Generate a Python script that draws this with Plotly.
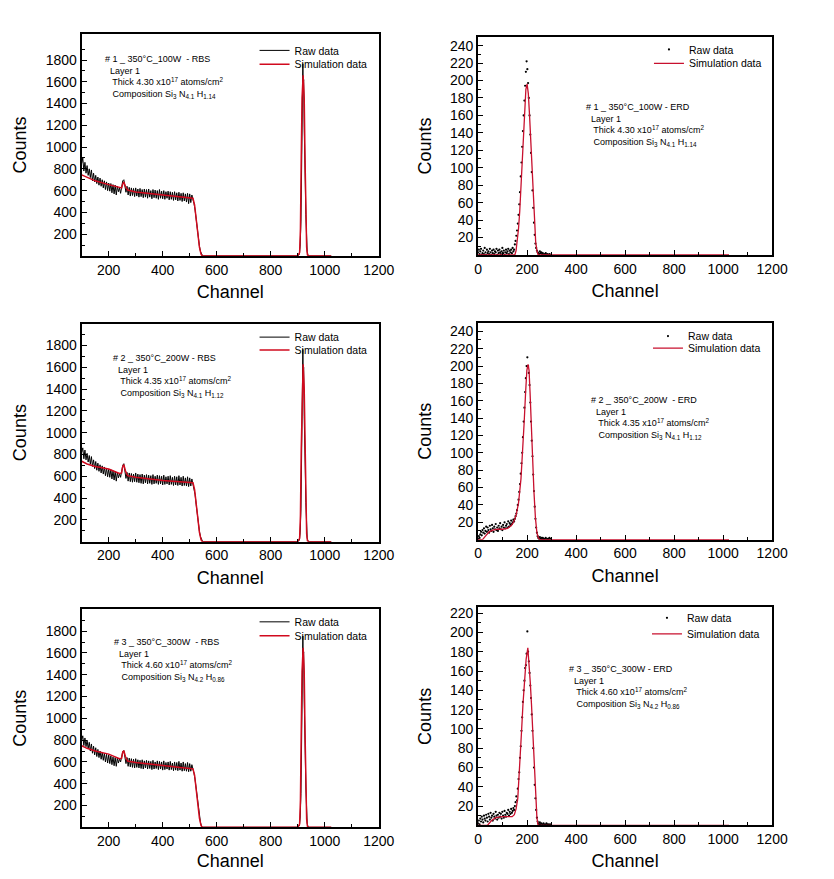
import plotly.graph_objects as go

FONT = "Liberation Sans, Arial, sans-serif"
OFF = 8          # default page body margin
W, H = 803, 863  # figure size in page pixels
SX, SY = 0.9815, 0.9975  # measured page -> picture scale

# ---------------- DATA ----------------
# RBS raw spectra: counts every 4 channels starting at channel 100
rbs_raw_start, rbs_raw_step = 100, 4
rbs1_raw = [850, 900, 780, 860, 760, 830, 740, 800, 720, 790,
            690, 760, 680, 740, 665, 725, 650, 715, 640, 700,
            625, 690, 610, 680, 600, 670, 595, 665, 580, 655,
            570, 650, 560, 640, 590, 625, 575, 660, 690, 700,
            630, 585, 640, 560, 630, 550, 625, 555, 620, 545,
            625, 550, 615, 540, 620, 545, 610, 535, 615, 540,
            610, 530, 615, 540, 600, 525, 610, 535, 605, 530,
            600, 520, 610, 530, 595, 525, 600, 520, 590, 530,
            595, 515, 590, 520, 585, 510, 590, 515, 580, 505,
            585, 510, 575, 500, 580, 505, 570, 495, 575, 480,
            570, 490, 560, 525, 480, 420, 330, 240, 160, 90,
            40, 10, 0]
rbs2_raw = [820, 860, 760, 840, 750, 810, 730, 790, 710, 780,
            690, 750, 670, 735, 655, 720, 645, 705, 630, 695,
            620, 685, 605, 675, 595, 665, 590, 660, 575, 650,
            565, 645, 555, 635, 585, 625, 590, 660, 700, 715,
            640, 580, 635, 555, 630, 550, 625, 545, 620, 550,
            630, 545, 620, 540, 615, 535, 620, 530, 610, 540,
            615, 530, 610, 535, 605, 525, 615, 530, 600, 535,
            610, 525, 605, 530, 600, 520, 610, 525, 595, 530,
            600, 520, 605, 525, 590, 515, 600, 520, 595, 515,
            605, 520, 590, 510, 600, 515, 585, 510, 595, 505,
            585, 510, 575, 535, 490, 430, 340, 250, 165, 95,
            45, 12, 0]
rbs3_raw = [800, 840, 750, 820, 740, 800, 720, 780, 700, 765,
            680, 745, 665, 730, 650, 715, 640, 700, 625, 690,
            615, 680, 600, 670, 590, 665, 585, 655, 575, 645,
            565, 640, 560, 635, 590, 630, 600, 665, 695, 705,
            645, 585, 640, 560, 635, 555, 630, 550, 625, 545,
            630, 550, 620, 545, 615, 540, 620, 535, 610, 545,
            615, 535, 610, 540, 605, 530, 615, 535, 600, 540,
            610, 530, 605, 535, 600, 525, 610, 530, 595, 535,
            600, 525, 605, 530, 590, 520, 600, 525, 595, 520,
            605, 525, 590, 515, 600, 520, 585, 515, 595, 510,
            585, 515, 575, 540, 495, 435, 345, 250, 165, 95,
            42, 10, 0]
# RBS raw: zero region and surface peak
rbs_peak_ch = [552, 600, 700, 800, 900, 906, 909, 912, 914, 916, 918, 919, 920,
               922, 924, 926, 928, 930, 932, 935, 938, 942, 960, 1000, 1024]
rbs1_peak = [0, 0, 0, 0, 0, 15, 90, 320, 760, 1320, 1640, 1766, 1560,
             1620, 1180, 1020, 680, 380, 160, 40, 6, 0, 0, 0, 0]
rbs2_peak = [0, 0, 0, 0, 0, 12, 80, 300, 720, 1290, 1620, 1764, 1540,
             1600, 1150, 980, 650, 360, 150, 35, 5, 0, 0, 0, 0]
rbs3_peak = [0, 0, 0, 0, 0, 14, 85, 310, 740, 1310, 1630, 1755, 1550,
             1610, 1170, 1000, 660, 370, 150, 38, 5, 0, 0, 0, 0]

# RBS simulation curves
rbs_sim_ch = [100, 120, 150, 200, 240, 248, 252, 256, 262, 270, 300, 350, 400, 450,
              500, 512, 518, 524, 530, 536, 542, 546, 600, 900, 907, 910, 913, 916,
              920, 924, 927, 930, 933, 936, 940, 1024]
rbs1_sim = [745, 720, 690, 655, 625, 625, 660, 680, 640, 605, 588, 575, 565, 550,
            537, 530, 470, 340, 200, 80, 15, 0, 0, 0, 30, 250, 900, 1450,
            1660, 1450, 900, 350, 80, 10, 0, 0]
rbs2_sim = [737, 712, 690, 666, 625, 630, 690, 706, 650, 605, 590, 575, 560, 552,
            545, 540, 480, 350, 205, 85, 18, 0, 0, 0, 30, 240, 850, 1400,
            1627, 1400, 850, 330, 70, 8, 0, 0]
rbs3_sim = [749, 725, 700, 672, 630, 635, 690, 703, 650, 608, 596, 580, 566, 553,
            541, 536, 480, 350, 205, 85, 18, 0, 0, 0, 30, 250, 880, 1430,
            1648, 1430, 880, 340, 75, 8, 0, 0]

# ERD raw spectra: counts every 3 channels starting at channel 0
erd_raw_start, erd_raw_step = 0, 3
erd1_raw = [3, 6, 1, 4, 7, 0, 2, 5, 1, 8, 3, 0, 6, 2, 4, 1, 7, 3, 0, 5,
            2, 6, 1, 4, 3, 7, 0, 5, 2, 6, 3, 1, 4, 8, 2, 5, 0, 3, 6, 2,
            4, 7, 1, 5, 3, 6, 2, 8, 4, 6,
            12, 16, 22, 28, 36, 46, 58, 72, 90, 106, 124, 142, 160, 177, 194, 210, 222, 213, 197, 180,
            160, 138, 117, 95, 74, 54, 37, 23, 13, 8, 5, 3, 2, 1, 4, 2, 3, 1, 2, 0,
            1, 0, 2, 0, 1, 0, 0, 1, 0, 0]
erd2_raw = [1, 4, 2, 6, 9, 5, 11, 8, 13, 7, 10, 15, 9, 14, 11, 8, 16, 12, 10, 17,
            13, 9, 15, 12, 18, 11, 14, 10, 16, 13, 19, 12, 15, 11, 17, 14, 20, 13, 16, 18,
            14, 21, 15, 19, 17, 22, 18, 20, 23, 21,
            24, 27, 30, 34, 40, 46, 55, 64, 76, 88, 100, 118, 136, 152, 170, 186, 200, 210, 200, 192,
            178, 158, 136, 114, 96, 75, 56, 38, 24, 14, 8, 4, 2, 1, 3, 1, 2, 0, 2, 1,
            0, 1, 2, 0, 1, 0, 1, 2, 0, 1]
erd3_raw = [2, 5, 1, 7, 4, 9, 6, 3, 10, 7, 5, 11, 8, 4, 12, 9, 6, 13, 8, 10,
            5, 12, 9, 7, 14, 10, 6, 11, 8, 13, 9, 12, 7, 14, 10, 8, 15, 11, 9, 13,
            12, 16, 10, 14, 12, 17, 13, 15, 18, 16,
            20, 24, 30, 26, 38, 48, 55, 70, 82, 98, 112, 128, 140, 150, 163, 166, 178, 201, 180, 170,
            158, 145, 132, 115, 98, 80, 60, 42, 28, 16, 8, 4, 2, 1, 3, 1, 2, 0, 1, 2,
            0, 1, 0, 2, 1, 0, 1, 0, 1, 0]

# ERD simulation curves
erd1_sim_ch = [0, 140, 150, 155, 160, 165, 170, 175, 180, 185, 190, 195, 200, 205,
               210, 215, 220, 225, 230, 235, 240, 245, 1024]
erd1_sim = [0, 0, 0, 5, 15, 30, 50, 75, 100, 130, 165, 190, 196, 185,
            160, 130, 100, 65, 35, 15, 5, 0, 0]
erd2_sim_ch = [0, 18, 30, 45, 60, 80, 100, 120, 135, 145, 155, 165, 175, 182, 188, 194,
               199, 204, 208, 212, 217, 222, 228, 234, 240, 246, 252, 1024]
erd2_sim = [0, 0, 4, 9, 11, 12, 12, 13, 16, 20, 28, 42, 70, 100, 135, 170,
            195, 202, 195, 170, 130, 95, 55, 25, 8, 2, 0, 0]
erd3_sim_ch = [0, 38, 55, 72, 100, 139, 148, 155, 162, 170, 177, 183, 189, 196, 203,
               208, 213, 218, 223, 229, 234, 240, 245, 1024]
erd3_sim = [0, 0, 5, 8, 9, 9, 11, 17, 28, 60, 96, 125, 148, 172, 184,
            170, 148, 125, 96, 55, 28, 8, 0, 0]

# Text labels
sample_titles = ["# 1 _ 350°C_100W  - RBS", "# 1 _ 350°C_100W - ERD",
                 "# 2 _ 350°C_200W - RBS", "# 2 _ 350°C_200W  - ERD",
                 "# 3 _ 350°C_300W  - RBS", "# 3 _ 350°C_300W - ERD"]
thickness = ["4.30", "4.30", "4.35", "4.35", "4.60", "4.60"]
comp_N = ["4.1", "4.1", "4.1", "4.1", "4.2", "4.2"]
comp_H = ["1.14", "1.14", "1.12", "1.12", "0.86", "0.86"]

rbs_x_ticks = [200, 400, 600, 800, 1000, 1200]
rbs_x_minor = [300, 500, 700, 900, 1100]
rbs_y_ticks = [200, 400, 600, 800, 1000, 1200, 1400, 1600, 1800]
rbs_y_minor = [100, 300, 500, 700, 900, 1100, 1300, 1500, 1700, 1900]
erd_x_ticks = [0, 200, 400, 600, 800, 1000, 1200]
erd_x_minor = [100, 300, 500, 700, 900, 1100]
erd_y_ticks = [20, 40, 60, 80, 100, 120, 140, 160, 180, 200, 220, 240]
erd_y_minor = [10, 30, 50, 70, 90, 110, 130, 150, 170, 190, 210, 230, 250]


# ---------------- LAYOUT HELPERS (picture pixels -> paper fractions) ----------------
def fx(p):
    return (p / SX - OFF) / W


def fy(p):
    return 1 - (p / SY - OFF) / H


def chans(start, step, n):
    return [start + step * i for i in range(n)]


RED = "#d10a1e"
RED_ERD = "#c8102e"

panels = [
    dict(kind="rbs", xpx=(78, 377), ypx=(32, 255), yr=2040, raw=rbs1_raw, peak=rbs1_peak,
         sim_ch=rbs_sim_ch, sim=rbs1_sim, ann=(99, 50), leg=(252, 48, 62)),
    dict(kind="erd", xpx=(477, 773), ypx=(35, 254), yr=250, raw=erd1_raw,
         sim_ch=erd1_sim_ch, sim=erd1_sim, ann=(584, 98), leg=(649, 47, 61)),
    dict(kind="rbs", xpx=(78, 377), ypx=(323, 542), yr=2000, raw=rbs2_raw, peak=rbs2_peak,
         sim_ch=rbs_sim_ch, sim=rbs2_sim, ann=(108, 351), leg=(252, 336, 349)),
    dict(kind="erd", xpx=(477, 773), ypx=(322, 540), yr=250, raw=erd2_raw,
         sim_ch=erd2_sim_ch, sim=erd2_sim, ann=(589, 393), leg=(648, 335, 347)),
    dict(kind="rbs", xpx=(78, 377), ypx=(610, 829), yr=2000, raw=rbs3_raw, peak=rbs3_peak,
         sim_ch=rbs_sim_ch, sim=rbs3_sim, ann=(109, 636), leg=(252, 622, 636)),
    dict(kind="erd", xpx=(477, 773), ypx=(608, 827), yr=226, raw=erd3_raw,
         sim_ch=erd3_sim_ch, sim=erd3_sim, ann=(567, 663), leg=(647, 618, 634)),
]

fig = go.Figure()
layout = dict(width=W, height=H, autosize=False, margin=dict(l=0, r=0, t=0, b=0),
              paper_bgcolor="white", plot_bgcolor="white",
              font=dict(family=FONT, color="black"), showlegend=True)
annotations = []

for i, p in enumerate(panels):
    n = i + 1
    xa = "x" if n == 1 else f"x{n}"
    ya = "y" if n == 1 else f"y{n}"
    lg_raw = "legend" if n == 1 else f"legend{2 * n - 1}"
    lg_sim = f"legend{2 * n}"

    if p["kind"] == "rbs":
        xr = chans(rbs_raw_start, rbs_raw_step, len(p["raw"])) + rbs_peak_ch
        yr_ = p["raw"] + p["peak"]
        fig.add_trace(go.Scatter(x=xr, y=yr_, mode="lines", name="Raw data",
                                 line=dict(color="black", width=1),
                                 xaxis=xa, yaxis=ya, legend=lg_raw))
        fig.add_trace(go.Scatter(x=p["sim_ch"], y=p["sim"], mode="lines", name="Simulation data",
                                 line=dict(color=RED, width=1.5),
                                 xaxis=xa, yaxis=ya, legend=lg_sim))
        xrange = [100, 1200]
        xt, xm, yt, ym = rbs_x_ticks, rbs_x_minor, rbs_y_ticks, rbs_y_minor
    else:
        xr = chans(erd_raw_start, erd_raw_step, len(p["raw"]))
        fig.add_trace(go.Scatter(x=xr, y=p["raw"], mode="markers", name="Raw data",
                                 marker=dict(color="black", size=2.2),
                                 xaxis=xa, yaxis=ya, legend=lg_raw))
        fig.add_trace(go.Scatter(x=p["sim_ch"], y=p["sim"], mode="lines", name="Simulation data",
                                 line=dict(color=RED_ERD, width=1.3),
                                 xaxis=xa, yaxis=ya, legend=lg_sim))
        xrange = [0, 1200]
        xt, xm, yt, ym = erd_x_ticks, erd_x_minor, erd_y_ticks, erd_y_minor

    common = dict(showline=True, linecolor="black", linewidth=2, mirror=True,
                  ticks="inside", ticklen=5, tickwidth=1, tickcolor="black",
                  showgrid=False, zeroline=False,
                  tickfont=dict(size=14, family=FONT, color="black"))
    layout["xaxis" if n == 1 else f"xaxis{n}"] = dict(
        common, domain=[fx(p["xpx"][0]), fx(p["xpx"][1])], anchor=ya,
        range=xrange, tickmode="array", tickvals=xt,
        minor=dict(ticks="inside", ticklen=3, tickcolor="black", tickmode="array", tickvals=xm),
        title=dict(text="Channel", font=dict(size=18, family=FONT), standoff=9))
    layout["yaxis" if n == 1 else f"yaxis{n}"] = dict(
        common, domain=[fy(p["ypx"][1]), fy(p["ypx"][0])], anchor=xa,
        range=[0, p["yr"]], tickmode="array", tickvals=yt,
        minor=dict(ticks="inside", ticklen=3, tickcolor="black", tickmode="array", tickvals=ym),
        title=dict(text="Counts", font=dict(size=18, family=FONT), standoff=14))

    lx, ly_raw, ly_sim = p["leg"]
    for key, yy in ((lg_raw, ly_raw), (lg_sim, ly_sim)):
        layout[key] = dict(x=fx(lx), y=fy(yy - 14), xanchor="left", yanchor="top",
                           bgcolor="rgba(0,0,0,0)", borderwidth=0, itemwidth=30,
                           font=dict(size=10.5, family=FONT, color="black"))

    text = (f"{sample_titles[i]}<br>"
            f"  Layer 1<br>"
            f"   Thick {thickness[i]} x10<sup>17</sup> atoms/cm<sup>2</sup><br>"
            f"   Composition Si<sub>3</sub> N<sub>{comp_N[i]}</sub> H<sub>{comp_H[i]}</sub>")
    ax_, ay_ = p["ann"]
    annotations.append(dict(text=text, x=fx(ax_), y=fy(ay_), xref="paper", yref="paper",
                            xanchor="left", yanchor="top", align="left", showarrow=False,
                            font=dict(size=9, family=FONT, color="black")))

layout["annotations"] = annotations
fig.update_layout(**layout)
fig.write_html("out.html")
